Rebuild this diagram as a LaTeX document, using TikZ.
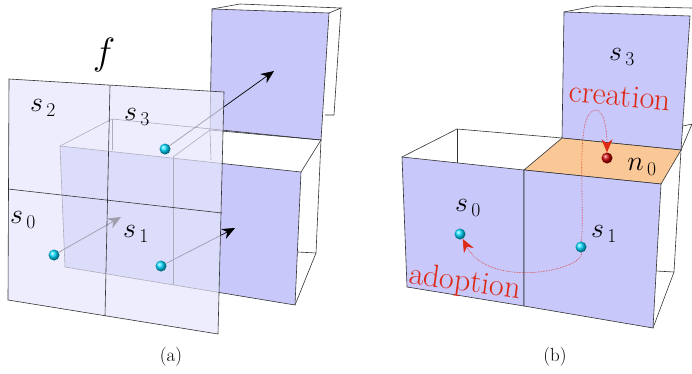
\documentclass[tikz,border=0pt]{standalone}
\usepackage{fix-cm}
\usetikzlibrary{arrows.meta}
\pgfdeclarelayer{behind}
\pgfdeclarelayer{plane}
\pgfsetlayers{behind,plane,main}
\definecolor{facecol}{RGB}{200,200,250}
\definecolor{planecol}{RGB}{229,229,252}
\definecolor{floorcol}{RGB}{250,200,150}
\definecolor{redcol}{RGB}{222,40,20}

\begin{document}
\begin{tikzpicture}[
    x=1pt, y=-1pt,
    every node/.style={font=\fontsize{28}{30}\selectfont, inner sep=0pt},
    edge/.style={draw=black!80, line width=0.6pt},
    face/.style={edge, fill=facecol},
    arr/.style={-{Stealth[length=13pt,width=11pt]}, line width=0.7pt},
    redarr/.style={-{Stealth[length=13pt,width=11pt]}, draw=redcol, fill=none,
        line width=0.6pt, densely dotted},
    ball/.style={circle, minimum size=11pt, shading=ball, ball color=cyan!85!blue},
    word/.style={text=redcol, font=\fontsize{32}{34}\selectfont},
    captext/.style={font=\fontsize{19}{21}\selectfont},
]
    \useasboundingbox (0,0) rectangle (692,373);

    % (a)
    \node[ball] (pa) at (54,255) {};
    \node[ball] (pb) at (161,266) {};
    \node[ball] (pc) at (165,149) {};
    \coordinate (ta) at (121,217);
    \coordinate (tb) at (235,228);
    \coordinate (tc) at (274,71);

    \begin{pgfonlayer}{behind}
        \draw[edge] (212,9) -- (240,4) -- (341,8) -- (329,13);
        \draw[edge] (341,8) -- (334,115) -- (325,115);
        \draw[face] (212,9) -- (329,13) -- (321,140) -- (210,130) -- cycle;
        \draw[edge] (60,146) -- (112,119) -- (321,140) -- (301,172);
        \draw[edge] (112,119) -- (112,150);
        \draw[edge] (173,157) -- (210,130) -- (211,160);
        \draw[edge] (321,140) -- (316,253) -- (295,305);
        \draw[edge] (316,253) -- (298,252);
        \draw[face] (60,146) -- (301,172) -- (295,305) -- (65,267) -- cycle;
        \draw[edge] (173,157) -- (173,285);
        \draw[arr] (pa) -- (ta);
        \draw[arr] (pb) -- (tb);
        \draw[arr] (pc) -- (tc);
    \end{pgfonlayer}

    \begin{pgfonlayer}{plane}
        \fill[planecol, opacity=0.69] (9,79) -- (224,92) -- (218,334) -- (8,300) -- cycle;
        \draw[edge] (9,79) -- (224,92) -- (218,334) -- (8,300) -- cycle;
        \draw[edge] (110,85) -- (105,316);
        \draw[edge] (8,189) -- (222,213);
    \end{pgfonlayer}

    \node[font=\fontsize{38}{40}\selectfont] (f) at (104,55) {$f$};
    \node (s2a) at (43,108) {$s_{\,2}$};
    \node (s3a) at (137,117) {$s_{\,3}$};
    \node (s0a) at (23,220) {$s_{\,0}$};
    \node (s1a) at (136,234) {$s_{\,1}$};
    \node[captext] (capa) at (171,357) {(a)};

    % (b)
    \draw[edge] (564,12) -- (595,6) -- (692,8);
    \draw[face] (564,12) -- (690,16) -- (681,150) -- (562,138) -- cycle;
    \draw[edge] (402,157) -- (457,129) -- (562,138);
    \draw[edge] (457,129) -- (457,163);
    \draw[edge] (681,150) -- (692,124) -- (683,126);
    \draw[edge] (681,150) -- (674,272) -- (653,328);
    \draw[edge] (674,272) -- (656,271);
    \draw[edge, fill=floorcol] (562,138) -- (681,150) -- (661,184) -- (524,170) -- cycle;
    \draw[face] (402,157) -- (524,170) -- (524,306) -- (407,287) -- cycle;
    \draw[face] (524,170) -- (661,184) -- (653,328) -- (524,306) -- cycle;

    \node[ball] (s0b) at (460,234) {};
    \node[ball] (s1b) at (581,247) {};
    \node[circle, minimum size=11pt, shading=ball, ball color=red!80!black] (n0) at (607,158) {};

    \draw[redarr] (s1b) .. controls (585,200) and (574,110) .. (596,110)
        .. controls (604,110) and (607,130) .. (n0);
    \draw[redarr] (s1b) .. controls (584,270) and (490,290) .. (s0b);

    \node (s3b) at (622,57) {$s_{\,3}$};
    \node (n0lab) at (642,167) {$n_{\,0}$};
    \node (s0lab) at (468,208) {$s_{\,0}$};
    \node (s1lab) at (604,234) {$s_{\,1}$};
    \node[word, rotate=-5] (creation) at (620,96) {creation};
    \node[word, rotate=-8] (adoption) at (465,283) {adoption};
    \node[captext] (capb) at (555,357) {(b)};
\end{tikzpicture}
\end{document}
